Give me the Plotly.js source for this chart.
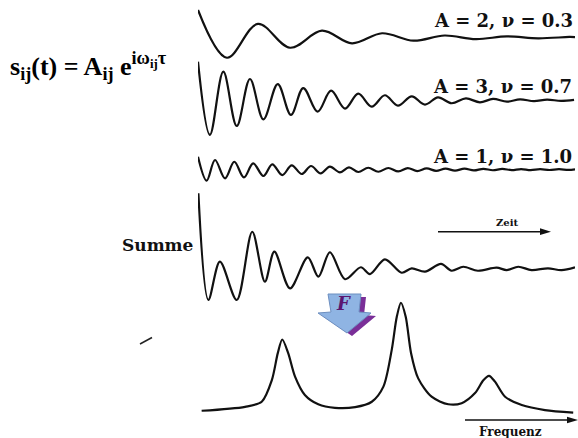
<!DOCTYPE html>
<html><head><meta charset="utf-8">
<script src="https://cdn.plot.ly/plotly-3.0.1.min.js"></script>
<style>html,body{margin:0;padding:0;background:#fff}#c{width:578px;height:438px}</style>
</head><body><div id="c"></div>
<script>
// ---- data ----
// time axis in units where one period of the nu=1.0 signal = 1
const t1 = [0, 1.53, 3.17, 4.87, 6.56, 8.15, 9.74, 11.4, 13.05, 14.7, 16.35, 18.0, 19.65, 19.95];
const a1 = [2.07, -1.52, 1.02, -0.77, 0.51, -0.44, 0.32, -0.24, 0.15, -0.12, 0.08, -0.06, 0.04, 0.03];

const t2 = [0, 0.63, 1.34, 2.05, 2.75, 3.46, 4.22, 4.92, 5.57, 6.33, 7.04, 7.78, 8.48, 9.19, 9.89, 10.58, 11.31, 12.01, 12.7, 13.42, 14.18, 14.92, 15.61, 16.35, 17.04, 17.78, 18.47, 19.21, 19.9];
const a2 = [2.9, -2.6, 2.15, -1.93, 1.6, -1.43, 1.22, -1.1, 0.92, -0.85, 0.72, -0.62, 0.5, -0.48, 0.38, -0.4, 0.3, -0.32, 0.22, -0.22, 0.14, -0.15, 0.1, -0.1, 0.07, -0.06, 0.05, -0.04, 0.03];

const t3 = [0, 0.46, 0.9, 1.43, 1.92, 2.43, 2.92, 3.46, 3.93, 4.46, 4.96, 5.49, 5.98, 6.49, 6.98, 7.51, 7.99, 8.48, 9.01, 9.54,
            10.07, 10.6, 11.1, 11.6, 12.1, 12.6, 13.1, 13.6, 14.1, 14.6, 15.1, 15.6, 16.1, 16.6, 17.1, 17.6, 18.1, 18.6, 19.1, 19.6, 19.95];
const a3 = [0.97, -0.83, 0.72, -0.66, 0.59, -0.59, 0.47, -0.48, 0.39, -0.41, 0.32, -0.33, 0.27, -0.29, 0.22, -0.21, 0.17, -0.18, 0.14, -0.16,
            0.12, -0.14, 0.11, -0.11, 0.09, -0.09, 0.08, -0.08, 0.07, -0.06, 0.06, -0.05, 0.05, -0.04, 0.04, -0.04, 0.03, -0.03, 0.03, -0.02, 0.02];

const tSum = [0.02, 0.55, 1.16, 2.05, 2.87, 3.54, 4.04, 4.87, 5.81, 6.37, 6.98, 7.78, 8.62, 9.1, 9.89, 10.78, 11.31, 12.01, 12.86, 13.42, 14.04, 14.81, 15.8, 16.33, 16.95, 17.65, 18.52, 19.24, 19.95];
const aSum = [5.69, -2.33, 0.55, -2.33, 2.8, -0.95, 1.3, -1.45, 0.88, -0.58, 1.26, -0.77, 0.13, -0.38, 0.73, -0.28, 0.05, -0.2, 0.38, -0.13, 0.17, -0.13, 0.1, -0.08, 0.17, -0.08, 0.05, -0.08, 0.13];

const nu = [0.029, 0.175, 0.231, 0.265, 0.285, 0.300, 0.320, 0.343, 0.376, 0.421, 0.477, 0.545, 0.601, 0.640, 0.668, 0.685, 0.699, 0.715, 0.733, 0.757, 0.802, 0.858, 0.903, 0.948, 0.976, 0.995, 1.015, 1.049, 1.105, 1.183, 1.278];
const spec = [0.09, 0.2, 0.34, 0.94, 1.69, 2.07, 1.69, 1.04, 0.53, 0.27, 0.17, 0.19, 0.34, 0.76, 1.78, 2.7, 3.09, 2.7, 1.69, 0.99, 0.48, 0.27, 0.3, 0.58, 0.94, 1.06, 0.9, 0.48, 0.25, 0.11, 0.04];

const labels = ["A = 2, ν = 0.3", "A = 3, ν = 0.7", "A = 1, ν = 1.0"];
const sumLabel = "Summe";
const timeLabel = "Zeit";
const freqLabel = "Frequenz";
const formula = "s<sub>ij</sub>(t) = A<sub>ij</sub> e<sup>iω<sub>ij</sub>τ</sup>";

// ---- layout helpers (pixel -> paper) ----
const W = 578, H = 438;
const px = x => x / W, py = y => 1 - y / H;
function yax(base, unit, lo, hi, anchor) {
  return {domain: [1 - (base - lo * unit) / H, 1 - (base - hi * unit) / H], range: [lo, hi],
          visible: false, fixedrange: true, anchor: anchor};
}
const U = 13.3;
const lineStyle = {color: '#111', width: 2.2, shape: 'spline', smoothing: 1};

const traces = [
  {x: t1, y: a1, xaxis: 'x', yaxis: 'y', mode: 'lines', line: lineStyle},
  {x: t2, y: a2, xaxis: 'x', yaxis: 'y2', mode: 'lines', line: lineStyle},
  {x: t3, y: a3, xaxis: 'x', yaxis: 'y3', mode: 'lines', line: lineStyle},
  {x: tSum, y: aSum, xaxis: 'x', yaxis: 'y4', mode: 'lines', line: Object.assign({}, lineStyle, {smoothing: 0.9})},
  {x: nu, y: spec, xaxis: 'x2', yaxis: 'y5', mode: 'lines', line: Object.assign({}, lineStyle, {smoothing: 0.8})}
];

function P(pts) { return 'M ' + pts.map(p => px(p[0]) + ',' + py(p[1])).join(' L ') + ' Z'; }
const arrowBody = [[328,294],[361,294],[359,312],[371,313],[347,333],[318,313],[331,312]];
const shadow = arrowBody.map(p => [p[0] + 5, p[1] + 3]);

const shapes = [
  {type: 'path', xref: 'paper', yref: 'paper', path: P(shadow), fillcolor: '#7a2f98', line: {width: 0}},
  {type: 'path', xref: 'paper', yref: 'paper', path: P(arrowBody), fillcolor: '#8fb4e3', line: {color: '#6d8fc0', width: 1}},
  // Zeit arrow
  {type: 'line', xref: 'paper', yref: 'paper', x0: px(438), y0: py(231.7), x1: px(542), y1: py(231.7), line: {color: '#111', width: 1.5}},
  {type: 'path', xref: 'paper', yref: 'paper', path: P([[551,231.7],[540,228.3],[540,235.1]]), fillcolor: '#111', line: {width: 0}},
  // Frequenz arrow
  {type: 'line', xref: 'paper', yref: 'paper', x0: px(465), y0: py(420), x1: px(568), y1: py(420), line: {color: '#111', width: 1.5}},
  {type: 'path', xref: 'paper', yref: 'paper', path: P([[578,420],[567,416.7],[567,423.3]]), fillcolor: '#111', line: {width: 0}},
  // stray stroke
  {type: 'line', xref: 'paper', yref: 'paper', x0: px(140), y0: py(344), x1: px(152), y1: py(337.5), line: {color: '#222', width: 1.5}}
];

const lblFont = {family: 'DejaVu Serif', size: 18, color: '#111'};
const ann = (text, x, y, xa, font) => ({text: text, x: px(x), y: py(y), xref: 'paper', yref: 'paper',
  xanchor: xa, yanchor: 'middle', showarrow: false, font: font});

const annotations = [
  ann('<b>' + labels[0] + '</b>', 575, 21, 'right', lblFont),
  ann('<b>' + labels[1] + '</b>', 574, 86, 'right', lblFont),
  ann('<b>' + labels[2] + '</b>', 574, 156, 'right', lblFont),
  ann('<b>' + sumLabel + '</b>', 120, 245, 'left', {family: 'DejaVu Serif', size: 17, color: '#111'}),
  ann('<b>' + timeLabel + '</b>', 507, 222, 'center', {family: 'DejaVu Serif', size: 10, color: '#111'}),
  ann('<b>' + freqLabel + '</b>', 510, 432, 'center', {family: 'DejaVu Serif', size: 12, color: '#111'}),
  ann('<b>' + formula + '</b>', 8, 66, 'left', {family: 'Liberation Serif', size: 26, color: '#000'}),
  ann('<b><i>F</i></b>', 343, 303, 'center', {family: 'DejaVu Serif', size: 18, color: '#5a1670'})
];

const layout = {
  width: W, height: H, margin: {l: 0, r: 0, t: 0, b: 0},
  paper_bgcolor: '#fff', plot_bgcolor: 'rgba(0,0,0,0)', showlegend: false, hovermode: false,
  xaxis: {domain: [px(198), px(575)], range: [0, 19.95], visible: false, anchor: 'y'},
  xaxis2: {domain: [px(198), px(575)], range: [(198 - 193) / 297.5, (575 - 193) / 297.5], visible: false, anchor: 'y5'},
  yaxis: yax(37.5, U, -2.4, 2.6, 'x'),
  yaxis2: yax(100.3, U, -3.3, 3.3, 'x'),
  yaxis3: yax(169.6, U, -1.4, 1.4, 'x'),
  yaxis4: yax(269, U, -3.0, 6.1, 'x'),
  yaxis5: yax(414, 36, -0.3, 3.4, 'x2'),
  shapes: shapes, annotations: annotations
};

Plotly.newPlot('c', traces, layout, {staticPlot: true, displayModeBar: false});
</script>
</body></html>
